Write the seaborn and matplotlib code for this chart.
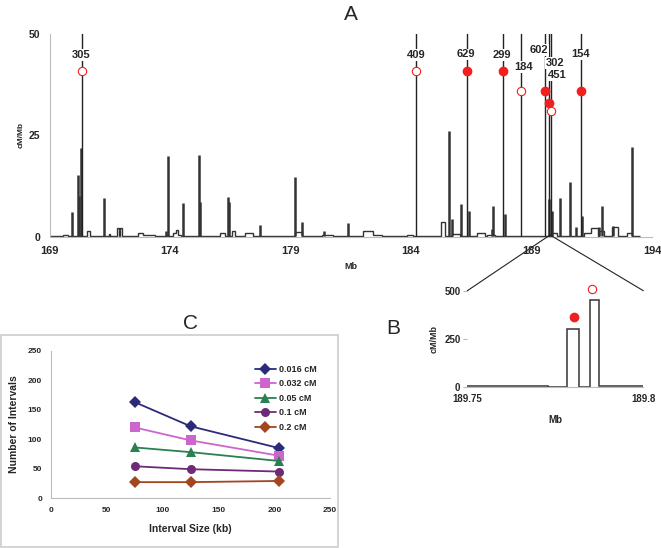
import matplotlib
matplotlib.use('Agg')
import matplotlib.pyplot as plt
import matplotlib.patches as mpatches
from matplotlib.patches import ConnectionPatch
import seaborn as sns
import pandas as pd

sns.set_style('white')
plt.rcParams['font.family'] = ['Liberation Sans', 'DejaVu Sans']
plt.rcParams['font.weight'] = 'bold'

# ---- panel A: recombination rate along the chromosome (cM/Mb) ----
base_rate = 0.2
data_start, data_end = 169.0, 193.52

# low plateaus (start Mb, end Mb, rate)
block_start = [169.56, 170.56, 171.45, 171.80, 171.93, 172.67, 172.90, 174.12, 174.25, 174.32,
               176.08, 176.56, 177.11, 178.07, 179.19, 180.29, 182.02, 182.44, 183.25, 183.85,
               184.50, 185.25, 185.69, 186.73, 187.14, 188.05, 189.85, 191.19, 191.45, 191.80,
               192.35, 192.95]
block_end = [169.77, 170.68, 171.50, 171.88, 172.01, 172.90, 173.37, 174.25, 174.32, 174.45,
             176.29, 176.70, 177.45, 178.48, 179.47, 180.78, 182.44, 182.80, 183.46, 184.10,
             184.60, 185.41, 186.04, 187.07, 187.49, 188.15, 190.04, 191.45, 191.77, 192.00,
             192.58, 193.16]
block_rate = [0.6, 1.6, 0.7, 2.2, 2.2, 1.0, 0.6, 0.9, 1.7, 0.5,
              0.9, 1.5, 0.9, 0.3, 1.2, 0.5, 1.5, 0.6, 0.3, 0.6,
              0.3, 3.6, 0.7, 0.9, 0.6, 0.3, 0.9, 0.9, 2.2, 1.4,
              2.5, 0.9]

# narrow peaks below the axis limit
peak_pos = [169.95, 170.17, 170.21, 170.29, 171.26, 173.82, 173.93, 174.53, 175.20, 175.24,
            176.39, 176.44, 177.73, 179.20, 179.48, 180.39, 181.40, 185.58, 185.69, 186.06,
            186.42, 187.36, 187.41, 187.90, 189.74, 189.84, 190.18, 190.61, 190.83, 191.08,
            191.81, 191.94, 192.40, 193.18]
peak_rate = [6.2, 15.3, 10.0, 22.0, 9.6, 1.5, 20.0, 8.3, 20.2, 8.5,
             9.9, 8.5, 3.0, 14.9, 3.8, 1.5, 3.4, 26.2, 4.4, 8.1,
             6.4, 2.0, 7.7, 5.6, 9.4, 6.3, 9.5, 13.5, 2.4, 5.2,
             2.4, 7.6, 2.7, 22.1]

# hotspots going off the scale
hot_pos = [170.34, 184.21, 186.31, 187.80, 188.56, 189.57, 189.74, 189.81, 191.04]
hot_rate = [305, 409, 629, 299, 184, 602, 302, 451, 154]
hot_mark = [41, 41, 41, 41, 36, 36, 33, 31, 36]
hot_filled = [False, False, True, True, False, True, True, False, True]
hot_label_x = [170.33, 184.21, 186.28, 187.78, 188.69, 189.31, 189.97, 190.06, 191.05]
hot_label_y = [44.8, 44.8, 45.0, 44.8, 41.9, 46.0, 42.9, 39.9, 45.0]

# ---- panel B: zoom on 189.75 - 189.8 Mb ----
b_edges = [189.75, 189.773, 189.7784, 189.7818, 189.7848, 189.7875, 189.80]
b_rates = [5, 1, 302, 2, 451, 5]
b_mark_x = [189.7802, 189.7855]
b_mark_y = [364, 510]
b_filled = [True, False]

# ---- panel C: number of intervals ----
interval_kb = [75, 125, 204]
thresholds = ['0.016 cM', '0.032 cM', '0.05 cM', '0.1 cM', '0.2 cM']
n_intervals = {
    '0.016 cM': [163, 122, 85],
    '0.032 cM': [120, 98, 72],
    '0.05 cM': [86, 78, 63],
    '0.1 cM': [54, 49, 45],
    '0.2 cM': [27, 27, 29],
}
c_colors = ['#2B2B7A', '#CC66CC', '#2A8050', '#6E2A78', '#A3451F']
c_markers = ['D', 's', '^', 'o', 'D']

line_col = '#333333'
red = '#EE2020'
spine_col = '#BBBBBB'

fig = plt.figure(figsize=(6.61, 5.48), dpi=100)

# ----- A -----
axA = fig.add_axes([0.0749, 0.5675, 0.9115, 0.3705])
edges = [data_start]
rates = []
for s, e, r in zip(block_start, block_end, block_rate):
    if s > edges[-1]:
        rates.append(base_rate)
        edges.append(s)
    rates.append(r)
    edges.append(e)
rates.append(base_rate)
edges.append(data_end)
axA.stairs(rates, edges, color=line_col, lw=1.0, baseline=None)
axA.vlines(peak_pos, base_rate, peak_rate, color=line_col, lw=1.8)
axA.vlines(hot_pos, base_rate, hot_rate, color='#222222', lw=1.0)
for x, m, f in zip(hot_pos, hot_mark, hot_filled):
    if f:
        axA.plot(x, m, 'o', color=red, ms=6, zorder=4)
    else:
        axA.plot(x, m, 'o', mfc='white', mec=red, mew=0.8, ms=6, zorder=4)
for lx, ly, r in zip(hot_label_x, hot_label_y, hot_rate):
    axA.text(lx, ly, str(r), ha='center', va='center', fontsize=8, fontweight='bold',
             zorder=5, bbox=dict(facecolor='white', edgecolor='none', pad=0.6))
axA.set_xlim(169, 194)
axA.set_ylim(0, 50)
axA.set_xticks([169, 174, 179, 184, 189, 194])
axA.set_yticks([0, 25, 50])
axA.set_xlabel('Mb', fontsize=6.5, fontweight='bold', labelpad=4)
axA.set_ylabel('cM/Mb', fontsize=6, fontweight='bold', labelpad=3)
axA.tick_params(axis='x', labelsize=8, length=3, color=spine_col, width=0.8)
axA.tick_params(axis='y', labelsize=7.5, length=3, color=spine_col, width=0.8)
sns.despine(ax=axA)
for sp in ['left', 'bottom']:
    axA.spines[sp].set_color(spine_col)
    axA.spines[sp].set_linewidth(0.8)
axA.set_title('A', fontsize=15, fontweight='normal', pad=10)

# ----- B -----
axB = fig.add_axes([0.707, 0.2932, 0.2663, 0.1763])
axB.stairs(b_rates, b_edges, color='#444444', lw=1.2, baseline=None)
for x, y, f in zip(b_mark_x, b_mark_y, b_filled):
    if f:
        axB.plot(x, y, 'o', color=red, ms=6, clip_on=False)
    else:
        axB.plot(x, y, 'o', mfc='white', mec=red, mew=0.8, ms=6, clip_on=False)
axB.set_xlim(189.75, 189.80)
axB.set_ylim(0, 500)
axB.set_xticks([189.75, 189.8])
axB.set_xticklabels(['189.75', '189.8'])
axB.set_yticks([0, 250, 500])
axB.set_xlabel('Mb', fontsize=7, fontweight='bold', labelpad=8)
axB.set_ylabel('cM/Mb', fontsize=6.5, fontweight='bold', labelpad=4)
axB.tick_params(labelsize=7, length=3, color=spine_col, width=0.8, pad=2)
sns.despine(ax=axB, left=True)
axB.tick_params(axis='y', left=True)
axB.spines['bottom'].set_color(spine_col)
fig.text(393 / 661, 1 - 328 / 548, 'B', fontsize=15, fontweight='normal', ha='center', va='center')

# zoom lines from A to B
for xb in [0, 1]:
    con = ConnectionPatch(xyA=(189.77, 0.5), coordsA=axA.transData,
                          xyB=(xb, 1.0), coordsB=axB.transAxes,
                          color='#222222', lw=0.8)
    fig.add_artist(con)

# ----- C -----
axC = fig.add_axes([0.0772, 0.0912, 0.4222, 0.2683])
rows = []
for t in thresholds:
    for kb, n in zip(interval_kb, n_intervals[t]):
        rows.append({'size': kb, 'count': n, 'threshold': t})
df = pd.DataFrame(rows)
sns.lineplot(data=df, x='size', y='count', hue='threshold', style='threshold',
             hue_order=thresholds, style_order=thresholds,
             palette=c_colors, markers=c_markers, dashes=False,
             markersize=6.5, markeredgewidth=0, lw=1.3, ax=axC)
axC.set_xlim(0, 250)
axC.set_ylim(0, 250)
axC.set_xticks(range(0, 251, 50))
axC.set_yticks(range(0, 251, 50))
axC.set_xlabel('Interval Size (kb)', fontsize=7.5, fontweight='bold', labelpad=7)
axC.set_ylabel('Number of Intervals', fontsize=7.5, fontweight='bold', labelpad=6)
axC.tick_params(labelsize=6, length=3, color=spine_col, width=0.8)
sns.despine(ax=axC)
for sp in ['left', 'bottom']:
    axC.spines[sp].set_color(spine_col)
sns.move_legend(axC, 'upper left', bbox_to_anchor=(0.7, 0.96), frameon=False, title=None,
                fontsize=6.5, handlelength=2.4, labelspacing=0.6, handletextpad=0.3)
axC.set_title('C', fontsize=15, fontweight='normal', pad=16)

frame = mpatches.Rectangle((1 / 661, 1 / 548), 337 / 661, 212 / 548, transform=fig.transFigure,
                           fill=False, edgecolor='#CCCCCC', lw=1.2)
fig.add_artist(frame)

fig.savefig('out.png', dpi=100)
